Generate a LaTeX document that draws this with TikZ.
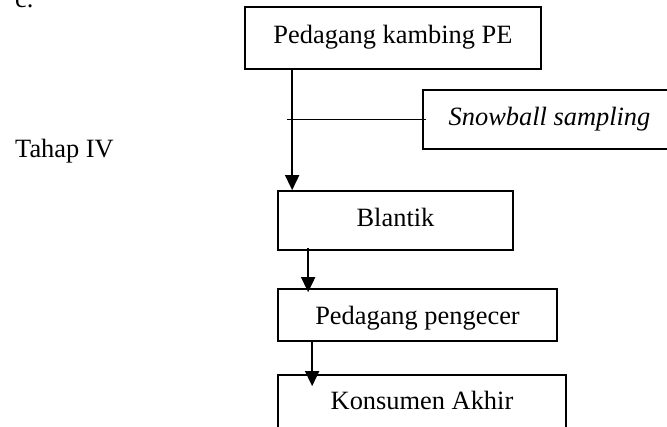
\documentclass[tikz,border=0pt]{standalone}
\usepackage{fontspec}
\setmainfont{Liberation Serif}
\usetikzlibrary{arrows.meta}
\newcommand{\fsz}{\fontsize{26.4}{30}\selectfont}
\tikzset{
  boxnode/.style={draw, line width=1.7pt, font=\fsz, inner sep=0pt,
    text height=18pt, text depth=6pt, anchor=center},
  plain/.style={font=\fsz, inner sep=0pt, anchor=base west},
  link/.style={line width=1.7pt},
  flow/.style={line width=1.7pt, -{Triangle[length=15pt,width=14pt]}}
}
\begin{document}
\begin{tikzpicture}[x=1pt,y=-1pt]
\useasboundingbox (0,0) rectangle (667,427);
\clip (0,0) rectangle (667,427);
\fill[white] (0,0) rectangle (667,427);

\node[plain] (c) at (15,8) {c.};
\node[plain] (tahap) at (15,158) {Tahap IV};

\node[boxnode, minimum width=296pt, minimum height=62pt] (ped) at (393,38) {Pedagang kambing PE};
\node[boxnode, minimum width=253pt, minimum height=59pt] (snow) at (549.5,119.5) {\itshape Snowball sampling};
\node[boxnode, minimum width=235pt, minimum height=59pt] (bla) at (395.5,220.5) {Blantik};
\node[boxnode, minimum width=279pt, minimum height=52pt, text height=20pt, text depth=0pt] (eng) at (417.5,315) {Pedagang pengecer};
\node[boxnode, minimum width=288pt, minimum height=70pt, text height=12pt, text depth=12pt] (kon) at (422,410) {Konsumen Akhir};

\draw[flow] ([xshift=48pt]ped.south west) -- ([xshift=15pt]bla.north west);
\draw[link] ([xshift=-135pt]snow.west) -- ([xshift=4pt]snow.west);
\draw[flow] ([xshift=31pt,yshift=3pt]bla.south west) -- ([xshift=31pt,yshift=-4pt]eng.north west);
\draw[flow] ([xshift=35pt]eng.south west) -- ([xshift=35pt,yshift=-12pt]kon.north west);
\end{tikzpicture}
\end{document}
